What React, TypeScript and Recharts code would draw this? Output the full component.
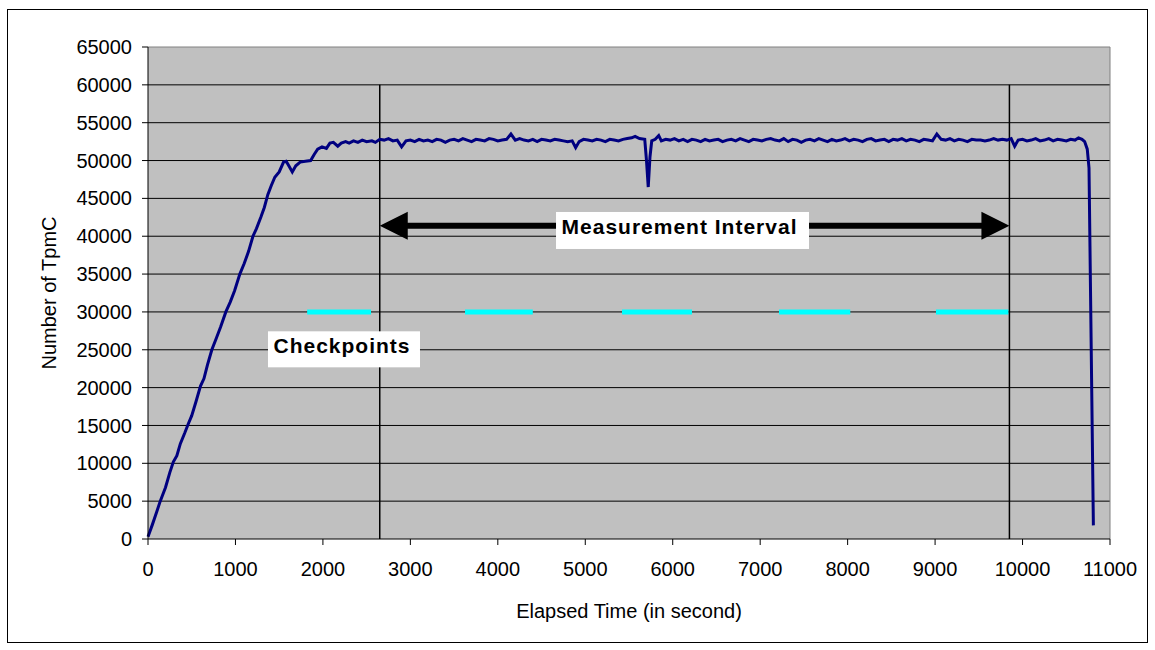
import {
  LineChart,
  Line,
  XAxis,
  YAxis,
  CartesianGrid,
  ReferenceLine,
  ReferenceDot,
} from 'recharts';

// elapsed seconds and TpmC
const elapsed = [
  0, 50, 100, 140, 200, 250, 290, 330, 370, 420,
  460, 500, 550, 600, 640, 680, 730, 780, 830, 890,
  940, 990, 1050, 1100, 1150, 1200, 1240, 1290, 1330, 1370,
  1410, 1450, 1500, 1550, 1580, 1610, 1650, 1690, 1740, 1800,
  1860, 1900, 1940, 1990, 2040, 2080, 2120, 2170, 2210, 2260,
  2300, 2350, 2400, 2450, 2500, 2560, 2600, 2650, 2700, 2750,
  2800, 2850, 2900, 2950, 3000, 3050, 3100, 3150, 3200, 3250,
  3300, 3350, 3400, 3450, 3500, 3550, 3600, 3650, 3700, 3750,
  3800, 3850, 3900, 3950, 4000, 4050, 4100, 4150, 4200, 4250,
  4300, 4350, 4400, 4450, 4500, 4550, 4600, 4650, 4700, 4750,
  4800, 4850, 4890, 4930, 4980, 5030, 5080, 5130, 5180, 5230,
  5280, 5330, 5380, 5430, 5480, 5530, 5570, 5620, 5680, 5700,
  5720, 5740, 5760, 5800, 5840, 5870, 5920, 5970, 6020, 6070,
  6120, 6170, 6220, 6270, 6320, 6370, 6420, 6470, 6520, 6570,
  6620, 6670, 6720, 6770, 6820, 6870, 6920, 6970, 7020, 7070,
  7120, 7170, 7220, 7270, 7320, 7370, 7420, 7470, 7520, 7570,
  7620, 7670, 7720, 7770, 7820, 7870, 7920, 7970, 8020, 8070,
  8120, 8170, 8220, 8270, 8320, 8370, 8420, 8470, 8520, 8570,
  8620, 8670, 8720, 8770, 8820, 8870, 8920, 8970, 9020, 9070,
  9120, 9170, 9220, 9270, 9320, 9370, 9420, 9470, 9520, 9570,
  9620, 9670, 9720, 9770, 9820, 9870, 9910, 9950, 10000, 10050,
  10100, 10150, 10200, 10250, 10300, 10350, 10400, 10450, 10500, 10550,
  10600, 10640, 10680, 10710, 10740, 10760, 10810,
];

const tpmc = [
  300, 1900, 3600, 5000, 6800, 8800, 10200, 11000, 12600, 14000,
  15200, 16300, 18200, 20200, 21200, 23000, 25000, 26500, 28000, 30000,
  31300, 32800, 35000, 36400, 38000, 40000, 41000, 42500, 43800, 45500,
  46700, 47800, 48500, 49800, 49900, 49300, 48500, 49300, 49800, 49900,
  50000, 50800, 51500, 51800, 51600, 52300, 52400, 51900, 52300, 52500,
  52300, 52600, 52400, 52700, 52500, 52600, 52400, 52800, 52700, 52900,
  52600, 52700, 51800, 52600, 52700, 52500, 52800, 52600, 52700, 52500,
  52800, 52700, 52400, 52700, 52800, 52600, 52900, 52700, 52500, 52800,
  52700, 52600, 52900, 52800, 52600, 52700, 52800, 53500, 52700, 52900,
  52700, 52600, 52800, 52500, 52800, 52700, 52600, 52800, 52700, 52600,
  52500, 52600, 51700, 52500, 52800, 52700, 52600, 52800, 52700, 52500,
  52800, 52700, 52600, 52800, 52900, 53000, 53200, 52900, 52800, 50000,
  46500, 50500, 52600, 52800, 53300, 52600, 52800, 52700, 52900, 52600,
  52800, 52500, 52800, 52700, 52500, 52800, 52600, 52700, 52800, 52500,
  52700, 52800, 52600, 52900, 52700, 52500, 52800, 52700, 52600, 52800,
  52900, 52700, 52600, 52900, 52500, 52800, 52700, 52400, 52700, 52800,
  52600, 52900, 52700, 52500, 52800, 52600, 52700, 52900, 52600, 52800,
  52700, 52500, 52800, 52900, 52600, 52700, 52800, 52500, 52800, 52700,
  52900, 52600, 52800, 52700, 52500, 52800, 52700, 52600, 53500, 52800,
  52700, 52900, 52600, 52800, 52700, 52500, 52800, 52700, 52700, 52600,
  52700, 52900, 52700, 52800, 52700, 52900, 51900, 52700, 52800, 52600,
  52700, 52900, 52600, 52700, 52900, 52600, 52800, 52700, 52600, 52800,
  52700, 53000, 52800, 52500, 51500, 49000, 1800,
];

const xTicks = [0, 1000, 2000, 3000, 4000, 5000, 6000, 7000, 8000, 9000, 10000, 11000];
const yTicks = [
  0, 5000, 10000, 15000, 20000, 25000, 30000, 35000, 40000, 45000, 50000, 55000, 60000, 65000,
];

// checkpoint bars sit on the 30000 line
const checkpointLevel = 30000;
const checkpoints = [
  [1820, 2550],
  [3625, 4400],
  [5420, 6220],
  [7215, 8030],
  [9010, 9840],
];

const intervalStart = 2650;
const intervalEnd = 9850;
const intervalTop = 60000;
const arrowLevel = 41400;

const data = elapsed.map((t, i) => ({ t, tpmc: tpmc[i] }));

const FONT = '"Liberation Sans", Arial, sans-serif';

const renderArrow = (p: any) => {
  const { x1, y1, x2 } = p;
  const left = Math.min(x1, x2);
  const right = Math.max(x1, x2);
  const head = 28;
  const half = 14;
  const shaft = 3;
  const d =
    `M${left},${y1} L${left + head},${y1 - half} L${left + head},${y1 - shaft} ` +
    `L${right - head},${y1 - shaft} L${right - head},${y1 - half} L${right},${y1} ` +
    `L${right - head},${y1 + half} L${right - head},${y1 + shaft} L${left + head},${y1 + shaft} ` +
    `L${left + head},${y1 + half} Z`;
  return <path d={d} fill="#000" />;
};

const boxLabel = (text: string, w: number, h: number, dx: number) => (p: any) => (
  <g>
    <rect x={p.cx - w / 2} y={p.cy - h / 2} width={w} height={h} fill="#fff" />
    <text
      x={p.cx + dx}
      y={p.cy + 4}
      textAnchor="middle"
      fontFamily={FONT}
      fontWeight="bold"
      fontSize={21}
      letterSpacing={1}
      fill="#000"
    >
      {text}
    </text>
  </g>
);

export default function App() {
  return (
    <div
      style={{
        position: 'absolute',
        left: 7,
        top: 9,
        width: 1139,
        height: 632,
        border: '1px solid #000',
        background: '#fff',
        fontFamily: FONT,
      }}
    >
      <LineChart
        width={1139}
        height={632}
        data={data}
        margin={{ top: 37, right: 37, bottom: 24, left: 0 }}
      >
        <CartesianGrid horizontal={false} vertical={false} fill="#C0C0C0" />
        {yTicks
          .filter((v) => v > 0 && v < 65000)
          .map((v) => (
            <ReferenceLine key={'g' + v} y={v} stroke="#000" strokeWidth={1} />
          ))}
        <ReferenceLine y={65000} stroke="#808080" strokeWidth={1} />
        <ReferenceLine x={11000} stroke="#808080" strokeWidth={1} />
        <XAxis
          dataKey="t"
          type="number"
          domain={[0, 11000]}
          ticks={xTicks}
          interval={0}
          height={79}
          tickSize={6}
          tickMargin={17}
          axisLine={{ stroke: '#000' }}
          tickLine={{ stroke: '#000' }}
          tick={{ fontSize: 20, fill: '#000', fontFamily: FONT }}
          label={{
            value: 'Elapsed Time (in second)',
            position: 'insideBottom',
            offset: 0,
            style: { fontSize: 20, fill: '#000', fontFamily: FONT },
          }}
        />
        <YAxis
          type="number"
          domain={[0, 65000]}
          ticks={yTicks}
          interval={0}
          width={140}
          tickSize={6}
          tickMargin={10}
          axisLine={{ stroke: '#000' }}
          tickLine={{ stroke: '#000' }}
          tick={{ fontSize: 20, fill: '#000', fontFamily: FONT }}
          label={{
            value: 'Number of TpmC',
            angle: -90,
            position: 'insideLeft',
            offset: 41,
            style: { fontSize: 20, fill: '#000', fontFamily: FONT, textAnchor: 'middle' },
          }}
        />
        {checkpoints.map(([a, b]) => (
          <ReferenceLine
            key={'c' + a}
            segment={[
              { x: a, y: checkpointLevel },
              { x: b, y: checkpointLevel },
            ]}
            stroke="#00FFFF"
            strokeWidth={5}
          />
        ))}
        <ReferenceLine
          segment={[
            { x: intervalStart, y: 0 },
            { x: intervalStart, y: intervalTop },
          ]}
          stroke="#000"
          strokeWidth={1.5}
        />
        <ReferenceLine
          segment={[
            { x: intervalEnd, y: 0 },
            { x: intervalEnd, y: intervalTop },
          ]}
          stroke="#000"
          strokeWidth={1.5}
        />
        <Line
          type="linear"
          dataKey="tpmc"
          stroke="#000080"
          strokeWidth={3}
          dot={false}
          activeDot={false}
          isAnimationActive={false}
        />
        <ReferenceLine
          segment={[
            { x: intervalStart, y: arrowLevel },
            { x: intervalEnd, y: arrowLevel },
          ]}
          shape={renderArrow}
        />
        <ReferenceDot
          x={6112}
          y={40760}
          r={1}
          shape={boxLabel('Measurement Interval', 253, 37, -3)}
        />
        <ReferenceDot x={2241} y={25060} r={1} shape={boxLabel('Checkpoints', 152, 36, -2)} />
      </LineChart>
    </div>
  );
}
